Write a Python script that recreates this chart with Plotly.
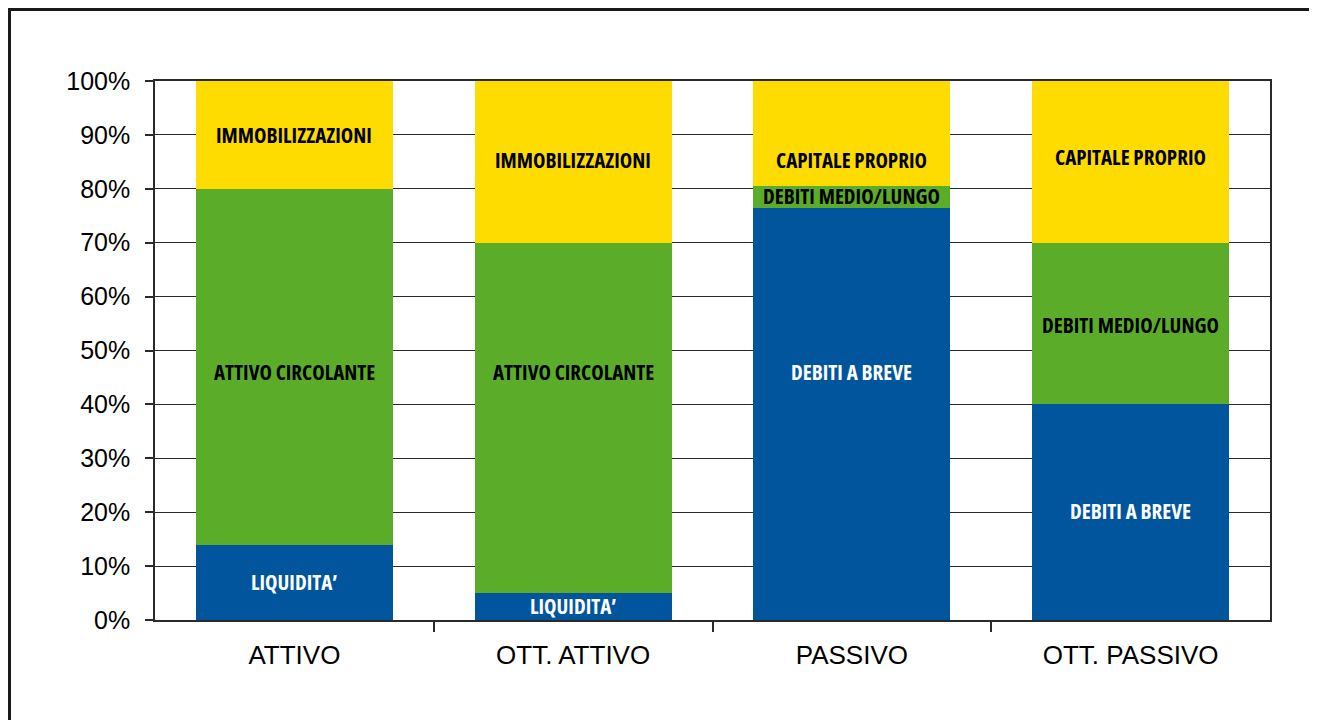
import plotly.graph_objects as go

categories = ["ATTIVO", "OTT. ATTIVO", "PASSIVO", "OTT. PASSIVO"]

# segment values (percent), bottom -> top
bottom_vals = [14, 5, 76.5, 40]
middle_vals = [66, 65, 4, 30]
top_vals = [20, 30, 19.5, 30]

bottom_names = ["LIQUIDITA’", "LIQUIDITA’", "DEBITI A BREVE", "DEBITI A BREVE"]
middle_names = ["ATTIVO CIRCOLANTE", "ATTIVO CIRCOLANTE", "DEBITI MEDIO/LUNGO", "DEBITI MEDIO/LUNGO"]
top_names = ["IMMOBILIZZAZIONI", "IMMOBILIZZAZIONI", "CAPITALE PROPRIO", "CAPITALE PROPRIO"]

# label anchor heights (percent)
bottom_label_y = [7, 2.6, 46, 20.2]
middle_label_y = [46, 46, 78.7, 54.7]
top_label_y = [90, 85.4, 85.4, 85.9]

y_tick_vals = list(range(0, 101, 10))
y_tick_text = [f"{v}%" for v in y_tick_vals]

BLUE = "#00559D"
GREEN = "#5BAD29"
YELLOW = "#FEDC00"
LINE = "#2a2a2a"

fig = go.Figure()
for vals, col in [(bottom_vals, BLUE), (middle_vals, GREEN), (top_vals, YELLOW)]:
    fig.add_trace(go.Bar(x=categories, y=vals, marker=dict(color=col, line=dict(width=0)),
                         showlegend=False, hoverinfo="skip"))

# invisible trace on secondary x axis for boundary ticks
fig.add_trace(go.Scatter(x=[0.5, 1.5, 2.5], y=[0, 0, 0], xaxis="x2", mode="markers",
                         marker=dict(opacity=0), showlegend=False, hoverinfo="skip"))

for names, ys, col in [(bottom_names, bottom_label_y, "white"),
                       (middle_names, middle_label_y, "black"),
                       (top_names, top_label_y, "black")]:
    for c, n, yv in zip(categories, names, ys):
        fig.add_annotation(x=c, y=yv,
                           text='<span style="font-stretch:condensed;font-weight:bold">' + n + '</span>',
                           showarrow=False,
                           font=dict(family="Open Sans", size=21, color=col),
                           xanchor="center", yanchor="middle")

fig.update_layout(
    width=1317, height=720,
    margin=dict(l=147, r=55, t=73, b=108),
    paper_bgcolor="white", plot_bgcolor="white",
    barmode="stack", bargap=0.293,
    font=dict(family="Liberation Sans, Arial, sans-serif", size=25, color="black"),
    xaxis=dict(type="category", range=[-0.5, 3.5], showline=True, linecolor=LINE, linewidth=1.5,
               mirror=True, ticks="", showgrid=False, tickfont=dict(size=26),
               ticklabelstandoff=11),
    xaxis2=dict(overlaying="x", anchor="y", side="bottom", range=[-0.5, 3.5],
                tickvals=[0.5, 1.5, 2.5], showticklabels=False, ticks="outside",
                ticklen=11, tickwidth=1.5, tickcolor=LINE, showgrid=False, showline=False,
                zeroline=False),
    yaxis=dict(range=[0, 100], tickvals=y_tick_vals, ticktext=y_tick_text,
               showgrid=True, gridcolor=LINE, gridwidth=1.3, showline=True, linecolor=LINE,
               linewidth=1.5, mirror=True, ticks="outside", ticklen=8, tickwidth=1.5,
               tickcolor=LINE, zeroline=False, tickfont=dict(size=25),
               ticklabelstandoff=10),
    shapes=[dict(type="rect", xref="paper", yref="paper",
                 x0=(1.5 - 147) / 1115, x1=1.2, y0=-0.5, y1=(612 - 1.5) / 539,
                 line=dict(color="#1a1a1a", width=3), fillcolor="rgba(0,0,0,0)", layer="above")],
)

fig.write_html("out.html")
